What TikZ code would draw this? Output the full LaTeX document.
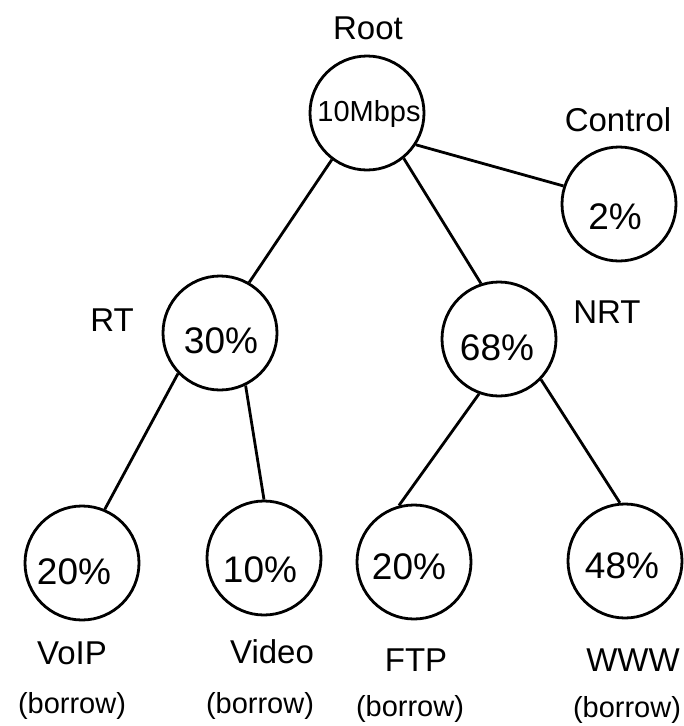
\documentclass[tikz,border=0pt]{standalone}
\usepackage{fontspec}
\setmainfont{Liberation Sans}
\begin{document}
\begin{tikzpicture}[x=1pt,y=-1pt,
  ball/.style={draw, circle, line width=2.8pt, minimum size=114pt, inner sep=0pt},
  lbl/.style={inner sep=0pt, font=\fontsize{33}{38}\selectfont},
  pct/.style={inner sep=0pt, font=\fontsize{37}{42}\selectfont},
  brw/.style={inner sep=0pt, font=\fontsize{29}{34}\selectfont},
  edge/.style={line width=2.8pt}]
\useasboundingbox (0,0) rectangle (684,726);

% circles
\node[ball] (root) at (367,113) {};
\node[ball] (ctrl) at (619,204) {};
\node[ball] (rt)   at (220,333) {};
\node[ball] (nrt)  at (499,339) {};
\node[ball] (voip) at (82,563) {};
\node[ball] (video) at (264,558) {};
\node[ball] (ftp)  at (414,562) {};
\node[ball] (www)  at (625,561) {};

% texts inside circles
\node[brw] (t10) at (369,114) {10Mbps};
\node[pct] (t2)  at (615,217) {2\%};
\node[pct] (t30) at (221,341) {30\%};
\node[pct] (t68) at (497,348) {68\%};
\node[pct] (t20a) at (74,572) {20\%};
\node[pct] (t10b) at (260,570) {10\%};
\node[pct] (t20b) at (409,567) {20\%};
\node[pct] (t48) at (622,566) {48\%};

% labels
\node[lbl] (lroot) at (368,28) {Root};
\node[lbl] (lctrl) at (618,120) {Control};
\node[lbl] (lrt)   at (112,320) {RT};
\node[lbl] (lnrt)  at (607,312) {NRT};
\node[lbl] (lvoip) at (72,653) {VoIP};
\node[lbl] (lvideo) at (272,652) {Video};
\node[lbl] (lftp)  at (416,660) {FTP};
\node[lbl] (lwww)  at (633,660) {WWW};
\node[brw] (b1) at (72,706) {(borrow)};
\node[brw] (b2) at (260,706) {(borrow)};
\node[brw] (b3) at (410,709) {(borrow)};
\node[brw] (b4) at (627,710) {(borrow)};

% connectors
\draw[edge] (root.-33) -- (ctrl.162);
\draw[edge] (root.-127) -- (rt.60);
\draw[edge] (root.-51) -- (nrt.108);
\draw[edge] (rt.-136) -- (voip.67);
\draw[edge] (rt.-64) -- (video.90);
\draw[edge] (nrt.-110) -- (ftp.105);
\draw[edge] (nrt.-44) -- (www.95);
\end{tikzpicture}
\end{document}
